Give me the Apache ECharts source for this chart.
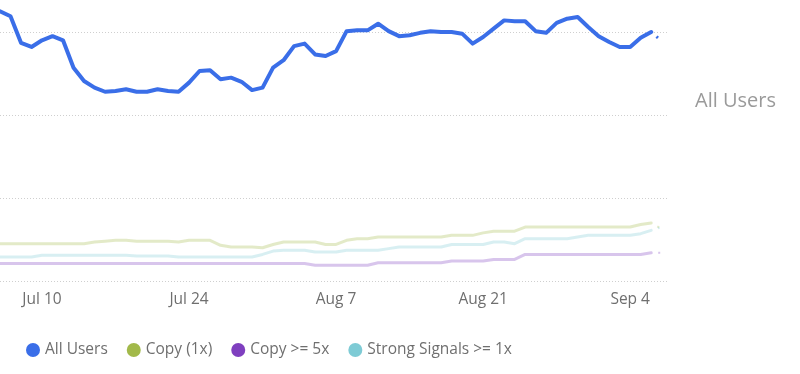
<!DOCTYPE html>
<html>
<head>
<meta charset="utf-8">
<script src="https://cdn.jsdelivr.net/npm/echarts@6/dist/echarts.min.js"></script>
<style>
html,body{margin:0;padding:0;background:#fff;}
#chart{width:800px;height:374px;}
</style>
</head>
<body>
<div id="chart"></div>
<script>
// Day labels (index 0 = Jul 6)
const dayLabels = [
 'Jul 6','Jul 7','Jul 8','Jul 9','Jul 10','Jul 11','Jul 12','Jul 13','Jul 14','Jul 15','Jul 16','Jul 17','Jul 18','Jul 19','Jul 20','Jul 21','Jul 22','Jul 23','Jul 24','Jul 25','Jul 26','Jul 27','Jul 28','Jul 29','Jul 30','Jul 31',
 'Aug 1','Aug 2','Aug 3','Aug 4','Aug 5','Aug 6','Aug 7','Aug 8','Aug 9','Aug 10','Aug 11','Aug 12','Aug 13','Aug 14','Aug 15','Aug 16','Aug 17','Aug 18','Aug 19','Aug 20','Aug 21','Aug 22','Aug 23','Aug 24','Aug 25','Aug 26','Aug 27','Aug 28','Aug 29','Aug 30','Aug 31',
 'Sep 1','Sep 2','Sep 3','Sep 4','Sep 5','Sep 6','Sep 7'
];
const tickDays = [4, 18, 32, 46, 60];

const seriesNames = ['All Users', 'Copy (1x)', 'Copy >= 5x', 'Strong Signals >= 1x'];
const seriesColors = ['#3a6ee8', '#a2b94a', '#7f3fbf', '#7ecbd5'];

// values for Jul 6 .. Sep 7 (last day partial)
const allUsers = [325,319,287,282,290,295,290,257,241,233,228,229,231,228,228,231,229,228,239,253,254,243,245,240,230,233,257,266,283,286,273,271,277,301,302,302,310,301,295,296,299,301,300,300,298,286,294,304,314,313,313,301,299,311,316,318,306,295,288,282,282,293,300,289];
const copy1x = [45,45,45,45,45,45,45,45,45,47,48,49,49,48,48,48,48,47,49,49,49,43,41,41,41,40,44,47,47,47,47,44,44,49,51,51,53,53,53,53,53,53,53,55,55,55,58,60,60,60,65,65,65,65,65,65,65,65,65,65,65,68,70,63];
const copy5x = [21,21,21,21,21,21,21,21,21,21,21,21,21,21,21,21,21,21,21,21,21,21,21,21,21,21,21,21,21,21,19,19,19,19,19,19,22,22,22,22,22,22,22,24,24,24,24,26,26,26,32,32,32,32,32,32,32,32,32,32,32,32,34,34];
const strongSignals = [29,29,29,29,31,31,31,31,31,31,31,31,31,30,30,30,30,29,29,29,29,29,29,29,29,32,36,37,37,37,35,35,35,37,37,37,37,39,41,41,41,41,41,44,44,44,44,47,47,45,51,51,51,51,51,53,55,55,55,55,55,57,61,65];

const allData = [allUsers, copy1x, copy5x, strongSignals];
const fadedOpacity = [1, 0.3, 0.3, 0.3];
const widths = [4, 3, 3, 3];

const series = [];
allData.forEach((vals, k) => {
  const n = vals.length;
  const full = vals.slice(0, n - 1).map((v, i) => [i, v]);
  const partial = [[n - 2, vals[n - 2]], [n - 1, vals[n - 1]]];
  series.push({
    name: seriesNames[k], type: 'line', data: full, showSymbol: false, smooth: false,
    z: k === 0 ? 5 : 3,
    lineStyle: {color: seriesColors[k], width: widths[k], opacity: fadedOpacity[k], cap: 'round', join: 'round'},
    itemStyle: {color: seriesColors[k]}
  });
  series.push({
    name: seriesNames[k], type: 'line', data: partial, showSymbol: false,
    z: k === 0 ? 5 : 3,
    lineStyle: {color: seriesColors[k], width: widths[k] - 1, opacity: fadedOpacity[k], type: [2, 20], dashOffset: 15},
    itemStyle: {color: seriesColors[k]}
  });
});

const chart = echarts.init(document.getElementById('chart'), null, {renderer: 'canvas'});
chart.setOption({
  animation: false,
  backgroundColor: '#fff',
  textStyle: {fontFamily: '"Open Sans", "Noto Sans", sans-serif'},
  grid: {left: 0, right: 132, top: 0, bottom: 93, containLabel: false},
  legend: {
    data: seriesNames.map((n, k) => ({name: n, itemStyle: {color: seriesColors[k], opacity: 1}})),
    left: 21, top: 337, icon: 'circle', itemWidth: 14, itemHeight: 14, itemGap: 19,
    textStyle: {color: '#6f6f6f', fontSize: 15.5, fontFamily: '"Open Sans", "Noto Sans", sans-serif'}
  },
  xAxis: {
    type: 'value', min: 0, max: 63.6,
    axisLine: {show: false}, axisTick: {show: false}, splitLine: {show: false},
    axisLabel: {
      customValues: tickDays, color: '#6f6f6f', fontSize: 15.5, margin: 11,
      formatter: v => dayLabels[Math.round(v)]
    }
  },
  yAxis: {
    type: 'value', min: 0, max: 338.55, interval: 100,
    axisLine: {show: false}, axisTick: {show: false},
    axisLabel: {show: false},
    splitLine: {show: true, showMaxLine: false, lineStyle: {color: '#cfcfcf', type: [1, 2], width: 1}}
  },
  graphic: [{
    type: 'text', left: 695, top: 91,
    style: {text: 'All Users', fill: '#9a9a9a', fontSize: 20, fontFamily: '"Open Sans", "Noto Sans", sans-serif'}
  }],
  series: series
});
</script>
</body>
</html>
